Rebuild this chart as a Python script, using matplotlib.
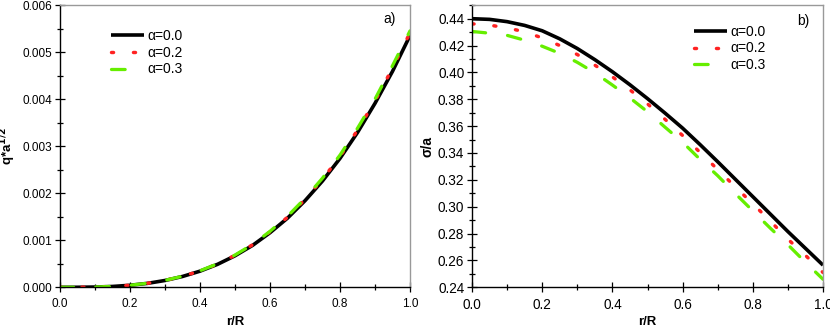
import matplotlib
matplotlib.use("Agg")
import matplotlib.pyplot as plt
from matplotlib.ticker import MultipleLocator, FormatStrFormatter

plt.rcParams['font.family'] = ['Liberation Sans', 'DejaVu Sans']

r = [0.0, 0.05, 0.1, 0.15, 0.2, 0.25, 0.3, 0.35, 0.4, 0.45, 0.5,
     0.55, 0.6, 0.65, 0.7, 0.75, 0.8, 0.85, 0.9, 0.95, 1.0]

# panel a) q*a^(1/2)
q_a00 = [0, 0.0000007, 0.0000054, 0.000018, 0.000043, 0.000084, 0.000145, 0.00023,
         0.000343, 0.000488, 0.00067, 0.00089, 0.00116, 0.00147, 0.00184, 0.00226,
         0.00274, 0.00329, 0.00391, 0.00459, 0.00535]
q_a02 = [0, 0.0000007, 0.0000055, 0.000018, 0.000044, 0.000085, 0.000147, 0.000233,
         0.000348, 0.000495, 0.00068, 0.000903, 0.00118, 0.00149, 0.00187, 0.0023,
         0.00278, 0.00334, 0.00396, 0.00466, 0.00541]
q_a03 = [0, 0.0000007, 0.0000055, 0.000018, 0.000044, 0.000086, 0.000148, 0.000235,
         0.000351, 0.0005, 0.000686, 0.000911, 0.00119, 0.00151, 0.00189, 0.00232,
         0.00281, 0.00338, 0.004, 0.00471, 0.00545]

# panel b) sigma/a
s_a00 = [0.4400, 0.4395, 0.4378, 0.4350, 0.4310, 0.4250, 0.4178, 0.4095, 0.4005, 0.3908,
         0.3805, 0.3697, 0.3585, 0.3462, 0.3335, 0.3205, 0.3075, 0.2945, 0.2815, 0.2690, 0.2565]
s_a02 = [0.4362, 0.4352, 0.4332, 0.4302, 0.4257, 0.4200, 0.4133, 0.4054, 0.3967, 0.3870,
         0.3766, 0.3651, 0.3530, 0.3404, 0.3277, 0.3148, 0.3022, 0.2893, 0.2758, 0.2638, 0.2510]
s_a03 = [0.4305, 0.4292, 0.4276, 0.4240, 0.4195, 0.4142, 0.4075, 0.3997, 0.3906, 0.3810,
         0.3707, 0.3592, 0.3480, 0.3352, 0.3231, 0.3098, 0.2969, 0.2840, 0.2717, 0.2586, 0.2460]

labels = ['α=0.0', 'α=0.2', 'α=0.3']
xticks = [0.0, 0.2, 0.4, 0.6, 0.8, 1.0]

fig = plt.figure(figsize=(8.3, 3.28), dpi=100)
axL = fig.add_axes([60/830, 1-287.3/328, 350/830, 282.3/328])
axR = fig.add_axes([472/830, 1-287.3/328, 351/830, 282.3/328])

LW = 2.6
black = '#000000'
red = '#FF2222'
green = '#66EE00'


def draw(ax, ys):
    l0, = ax.plot(r, ys[0], color=black, lw=LW, solid_capstyle='butt')
    l1, = ax.plot(r, ys[1], color=red, lw=LW * 0.95, dash_capstyle='round')
    l1.set_dashes([0.6, 5.8])
    l2, = ax.plot(r, ys[2], color=green, lw=LW * 0.9, dash_capstyle='round')
    l2.set_dashes([4.2, 6.8])
    return [l0, l1, l2]


def style(ax, lsize):
    for s in ['top', 'right']:
        ax.spines[s].set_color('#999999')
        ax.spines[s].set_linewidth(1.0)
    for s in ['left', 'bottom']:
        ax.spines[s].set_color('black')
        ax.spines[s].set_linewidth(1.0)
    ax.tick_params(which='major', direction='inout', length=7, width=0.9,
                   labelsize=lsize, top=False, right=False, pad=2)
    ax.tick_params(axis='x', which='major', pad=4)
    ax.tick_params(which='minor', direction='inout', length=4, width=0.9,
                   top=False, right=False)
    ax.set_xlim(0, 1)
    ax.set_xticks(xticks)
    ax.xaxis.set_minor_locator(MultipleLocator(0.1))
    ax.xaxis.set_major_formatter(FormatStrFormatter('%.1f'))
    ax.set_xlabel('r/R', fontsize=9.5, fontweight='bold')
    ax.xaxis.set_label_coords(0.5, -0.103)


hL = draw(axL, [q_a00, q_a02, q_a03])
style(axL, 8.5)
axL.set_ylim(0, 0.006)
axL.yaxis.set_major_locator(MultipleLocator(0.001))
axL.yaxis.set_minor_locator(MultipleLocator(0.0005))
axL.yaxis.set_major_formatter(FormatStrFormatter('%.3f'))
axL.set_ylabel(r'q*a$^{\mathbf{1/2}}$', fontsize=9.5, fontweight='bold')
axL.yaxis.set_label_coords(-0.12, 0.5)
axL.text(0.925, 0.935, 'a)', transform=axL.transAxes, fontsize=10)
axL.legend(hL, labels, loc='upper left', bbox_to_anchor=(0.13, 0.935), frameon=False,
           fontsize=10, handlelength=2.4, handletextpad=0.2, labelspacing=0.2,
           borderaxespad=0)

hR = draw(axR, [s_a00, s_a02, s_a03])
style(axR, 9.8)
axR.set_ylim(0.24, 0.4502)
axR.set_yticks([0.24, 0.26, 0.28, 0.30, 0.32, 0.34, 0.36, 0.38, 0.40, 0.42, 0.44])
axR.yaxis.set_minor_locator(MultipleLocator(0.01))
axR.yaxis.set_major_formatter(FormatStrFormatter('%.2f'))
axR.set_ylabel('σ/a', fontsize=10, fontweight='bold')
axR.yaxis.set_label_coords(-0.108, 0.5)
axR.text(0.925, 0.93, 'b)', transform=axR.transAxes, fontsize=10)
axR.legend(hR, labels, loc='upper left', bbox_to_anchor=(0.617, 0.95), frameon=False,
           fontsize=10, handlelength=2.4, handletextpad=0.2, labelspacing=0.2,
           borderaxespad=0)

fig.savefig('out.png', dpi=100)
